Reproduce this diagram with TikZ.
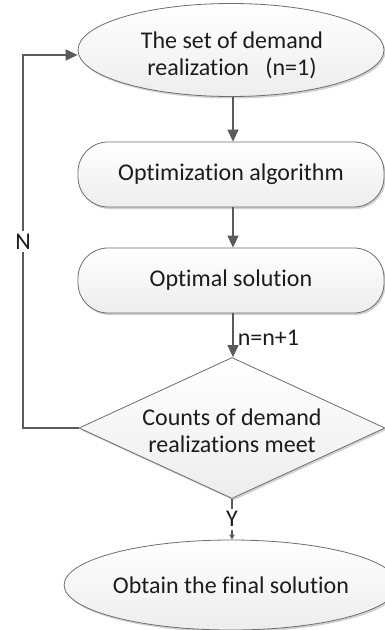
\documentclass[tikz,border=0pt]{standalone}
\usepackage{fontspec}
\setmainfont{Carlito}[Ligatures={NoCommon}]
\usetikzlibrary{shapes.geometric,arrows.meta,shadows}

\definecolor{linegray}{HTML}{5A5A5A}
\definecolor{edgegray}{HTML}{6E6E6E}
\definecolor{inkgray}{HTML}{1C1C1C}

\tikzset{
  bigtext/.style={font=\fontsize{24bp}{27bp}\selectfont},
  shapebase/.style={draw=edgegray, line width=0.8bp, top color=white, bottom color=black!7,
    text=inkgray, align=center, inner sep=0pt, bigtext,
    drop shadow={shadow xshift=1.5bp, shadow yshift=-2bp, opacity=0.18, fill=black}},
  termbox/.style={shapebase, ellipse},
  procbox/.style={shapebase, rectangle, rounded corners=30bp,
    minimum width=306bp, minimum height=65bp},
  decbox/.style={shapebase, diamond, shape aspect=2.17,
    minimum width=306bp, minimum height=141bp},
  flow/.style={draw=linegray, line width=1.5bp, -{Triangle[length=12bp,width=11bp]}},
  thinflow/.style={draw=linegray, line width=1.5bp, -{Triangle[length=5bp,width=5bp]}},
  lbl/.style={text=inkgray, bigtext, inner sep=1bp},
}

\begin{document}
\begin{tikzpicture}[x=1bp, y=-1bp]
  \useasboundingbox (0,0) rectangle (384,630);
  \fill[white] (0,0) rectangle (384,630);

  % terminal, process and decision blocks
  \node[termbox, minimum width=306bp, minimum height=93bp] (start) at (231,50) {};
  \node[lbl, align=center] (starttext) at (232,55)
    {The set of demand\\realization\ \ \ (n=1)};
  \node[procbox] (algo) at (231,174.5) {Optimization algorithm};
  \node[procbox] (sol)  at (231,280.5) {Optimal solution};
  \node[decbox]  (dec)  at (232,428) {};
  \node[lbl, align=center] (dectext) at (232,431) {Counts of demand\\realizations meet};
  \node[termbox, minimum width=302bp, minimum height=90bp] (final) at (231,585)
    {Obtain the final solution};

  % main flow
  \draw[flow] (start.south -| 233,0) -- (algo.north -| 233,0);
  \draw[flow] (algo.south -| 233,0) -- (sol.north -| 233,0);
  \draw[flow] (sol.south -| 233,0) -- node[lbl, anchor=west, xshift=3bp, yshift=-3bp] (inc) {n=n+1} (dec.north -| 233,0);
  \draw[thinflow] (dec.south) -- node[lbl, fill=white, inner sep=3bp, pos=0.5] (yes) {Y} (final.north -| dec.south);

  % loop back when the count is not met
  \coordinate (bend) at (23,428);
  \coordinate (entry) at ([yshift=-5bp]start.west);
  \draw[flow] (dec.west) -- (bend) |- node[lbl, fill=white, pos=0.25, inner sep=3bp] (no) {N} (entry);
\end{tikzpicture}
\end{document}
